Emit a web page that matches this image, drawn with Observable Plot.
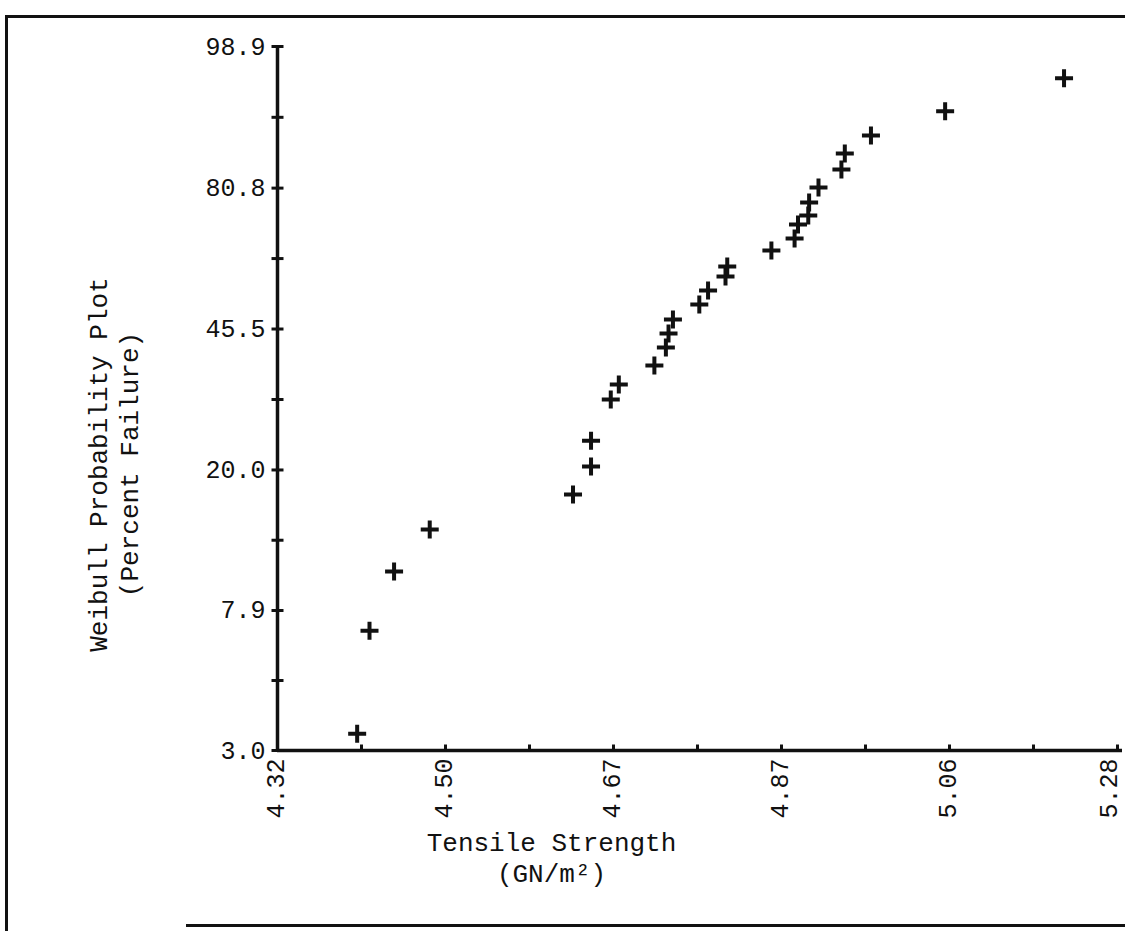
<!DOCTYPE html>
<html>
<head>
<meta charset="utf-8">
<script src="https://cdn.jsdelivr.net/npm/d3@7"></script>
<script src="https://cdn.jsdelivr.net/npm/@observablehq/plot@0.6"></script>
<style>
  html, body { margin: 0; padding: 0; background: #fff; }
  #wrap { position: relative; width: 1125px; height: 931px; overflow: hidden; }
  .bd { position: absolute; background: #111; }
</style>
</head>
<body>
<div id="wrap">
  <div class="bd" style="left:5px;top:15px;width:1120px;height:3px"></div>
  <div class="bd" style="left:5px;top:15px;width:3px;height:916px"></div>
  <div class="bd" style="left:186px;top:924px;width:939px;height:3px"></div>
</div>
<script>
// ---- data ----
const strength = [4.403, 4.416, 4.442, 4.480, 4.636, 4.656, 4.656, 4.678, 4.687, 4.727,
                  4.740, 4.743, 4.748, 4.778, 4.788, 4.808, 4.810, 4.861, 4.888, 4.892,
                  4.904, 4.905, 4.916, 4.943, 4.947, 4.978, 5.067, 5.213];
const failurePct = [3.37, 6.88, 10.28, 13.60, 17.09, 20.43, 24.03, 30.78, 33.58, 37.40,
                    41.27, 44.45, 47.77, 51.44, 54.97, 58.57, 61.18, 65.35, 68.47, 72.06,
                    74.31, 77.48, 80.95, 84.80, 87.89, 90.92, 94.19, 97.26];
const xTickLabels = ["4.32", "4.50", "4.67", "4.87", "5.06", "5.28"];
const yTickLabels = ["3.0", "7.9", "20.0", "45.5", "80.8", "98.9"];

// ---- Weibull probability transforms ----
const W = p => Math.log(-Math.log(1 - p / 100));
const lnMin = Math.log(+xTickLabels[0]);
const lnMax = Math.log(+xTickLabels[xTickLabels.length - 1]);
const yMin = W(+yTickLabels[0]);
const yMax = W(+yTickLabels[yTickLabels.length - 1]);

const xTicks = d3.range(11).map(k => lnMin + k * (lnMax - lnMin) / 10);
const xMajor = xTicks.filter((d, i) => i % 2 === 0);
const yMajor = yTickLabels.map(s => W(+s));
const yTicks = [];
yMajor.forEach((d, i) => { yTicks.push(d); if (i < yMajor.length - 1) yTicks.push((d + yMajor[i + 1]) / 2); });

const data = strength.map((s, i) => ({s, p: failurePct[i]}));

// custom symbols
const cross = { draw(ctx, size) { const r = Math.sqrt(size / Math.PI); ctx.moveTo(-r, 0); ctx.lineTo(r, 0); ctx.moveTo(0, -r); ctx.lineTo(0, r); } };
const tickUp = { draw(ctx, size) { const r = Math.sqrt(size / Math.PI); ctx.moveTo(0, 0); ctx.lineTo(0, -r); } };
const tickH = { draw(ctx, size) { const r = Math.sqrt(size / Math.PI); ctx.moveTo(-r, 0); ctx.lineTo(r, 0); } };

const font = "'Liberation Mono', 'DejaVu Sans Mono', monospace";
const xFmt = d => xTickLabels[xMajor.indexOf(d)];

const chart = Plot.plot({
  width: 1125,
  height: 931,
  marginLeft: 277,
  marginRight: 8,
  marginTop: 46,
  marginBottom: 181,
  style: { fontFamily: font, background: "transparent", color: "#111" },
  x: { domain: [lnMin, lnMax], axis: null },
  y: { domain: [yMin, yMax], axis: null },
  marks: [
    Plot.ruleX([lnMin], { stroke: "#111", strokeWidth: 3.5 }),
    Plot.ruleY([yMin], { stroke: "#111", strokeWidth: 3.5, insetRight: -5 }),
    Plot.dot(xTicks.slice(1), { x: d => d, y: () => yMin, symbol: tickUp, r: 6, fill: "none", stroke: "#111", strokeWidth: 3 }),
    Plot.dot(yTicks, { x: () => lnMin, y: d => d, symbol: tickH, r: 6, fill: "none", stroke: "#111", strokeWidth: 3 }),
    Plot.axisX(xMajor.slice(0, -1), {
      tickSize: 0, tickPadding: 8, tickRotate: -90, fontSize: 25, dx: -2,
      tickFormat: xFmt, label: null
    }),
    Plot.axisX(xMajor.slice(-1), {
      tickSize: 0, tickPadding: 8, tickRotate: -90, fontSize: 25, dx: -9,
      tickFormat: xFmt, label: null
    }),
    Plot.axisY(yMajor, {
      tickSize: 0, tickPadding: 12, fontSize: 25,
      tickFormat: d => yTickLabels[yMajor.indexOf(d)], label: null
    }),
    Plot.dot(data, { x: d => Math.log(d.s), y: d => W(d.p), symbol: cross, r: 9, fill: "none", stroke: "#111", strokeWidth: 4 }),
    Plot.text(["Tensile Strength\n(GN/m²)"], {
      frameAnchor: "bottom", dx: -146, dy: 78, lineAnchor: "top", textAnchor: "middle",
      lineHeight: 1.2, fontSize: 26, fill: "#111"
    }),
    Plot.text(["Weibull Probability Plot\n(Percent Failure)"], {
      frameAnchor: "left", dx: -165, dy: 66, rotate: -90, lineAnchor: "middle", textAnchor: "middle",
      lineHeight: 1.2, fontSize: 26, fill: "#111"
    })
  ]
});
document.getElementById("wrap").prepend(chart);
</script>
</body>
</html>
